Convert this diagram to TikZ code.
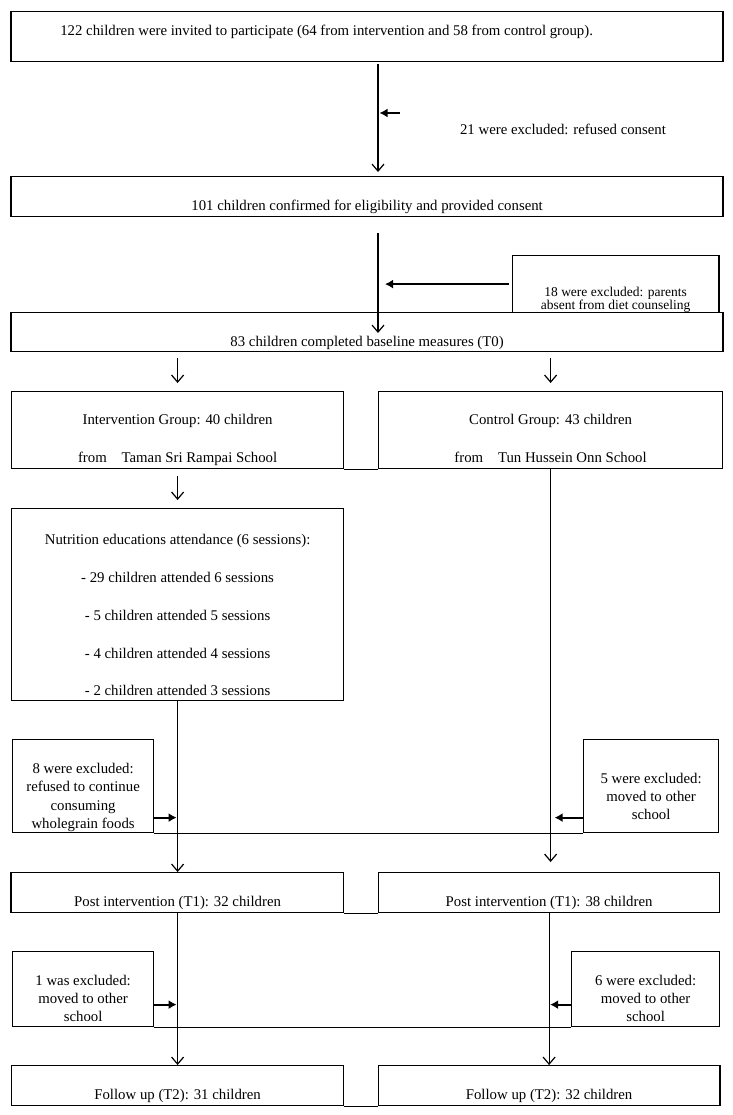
\documentclass[tikz,border=0pt]{standalone}
\usepackage{fontspec}
\setmainfont{Liberation Serif}
\usepackage{tikz}
\usetikzlibrary{arrows.meta}
\newcommand{\stack}[2]{{\renewcommand{\arraystretch}{#1}\begin{tabular}[t]{@{}c@{}}#2\end{tabular}}}

\begin{document}
\begin{tikzpicture}[x=1pt,y=-1pt,font=\fontsize{14.8}{17.5}\selectfont,
		box/.style={draw,line width=1.2pt,inner ysep=0pt,anchor=north west},
		>={Straight Barb[length=7pt,width=12pt]},
		push/.style={line width=2pt,-{Latex[length=8pt,width=9pt]}}]
		\useasboundingbox (0,0) rectangle (732,1115);
		%\draw [help lines,step=50] (0,0) grid (732,1115);
		\coordinate (spine) at (378,0);
		% main column
		\node[box,minimum width=711pt,text height=24pt,text depth=26pt] (invite) at (11,11)
			{122 children were invited to participate (64 from intervention and 58 from control group).\hspace*{81pt}};
		\node (refused) at (563,129) {21 were excluded: refused consent};
		\node[box,minimum width=711pt,text height=34pt,text depth=6pt] (consent) at (11,176)
			{101 children confirmed for eligibility and provided consent};
		\node[box,minimum width=206pt,text height=41pt,text depth=16pt,font=\fontsize{13.5}{16}\selectfont] (absent) at (512,255)
			{\stack{0.75}{18 were excluded: parents\\absent from diet counseling}};
		\node[box,minimum width=711pt,text height=34pt,text depth=5pt] (t0) at (11,312)
			{83 children completed baseline measures (T0)};
		% the two groups
		\node[box,minimum width=332pt,text height=33pt,text depth=44pt] (interv) at (11,391)
			{\stack{2.17}{Intervention Group: 40 children\\from\quad Taman Sri Rampai School}};
		\node[box,minimum width=344pt,text height=33pt,text depth=44pt] (control) at (378,391)
			{\stack{2.17}{Control Group: 43 children\\from\quad Tun Hussein Onn School}};
		\node[box,minimum width=332pt,text height=36pt,text depth=156pt] (educ) at (11,508)
			{\stack{2.16}{Nutrition educations attendance (6 sessions):\\- 29 children attended 6 sessions\\
			- 5 children attended 5 sessions\\- 4 children attended 4 sessions\\- 2 children attended 3 sessions}};
		\node[box,minimum width=141pt,text height=34pt,text depth=59pt] (stopped) at (12,739)
			{\stack{1.05}{8 were excluded:\\refused to continue\\consuming\\wholegrain foods}};
		\node[box,minimum width=135pt,text height=44pt,text depth=49pt] (movedA) at (583,739)
			{\stack{1.03}{5 were excluded:\\moved to other\\school}};
		\node[box,minimum width=332pt,text height=34pt,text depth=6pt] (postI) at (11,872)
			{Post intervention (T1): 32 children};
		\node[box,minimum width=341pt,text height=34pt,text depth=6pt] (postC) at (378,872)
			{Post intervention (T1): 38 children};
		\node[box,minimum width=141pt,text height=34pt,text depth=41pt] (movedB) at (12,951)
			{\stack{1.03}{1 was excluded:\\moved to other\\school}};
		\node[box,minimum width=148pt,text height=34pt,text depth=41pt] (movedC) at (571,951)
			{\stack{1.03}{6 were excluded:\\moved to other\\school}};
		\node[box,minimum width=332pt,text height=34pt,text depth=6pt] (follI) at (11,1065)
			{Follow up (T2): 31 children};
		\node[box,minimum width=341pt,text height=34pt,text depth=6pt] (follC) at (378,1065)
			{Follow up (T2): 32 children};
		% heavy sides of some boxes
		\foreach \n in {invite,consent,t0}
			\draw [line width=2.5pt] (\n.north west) -- (\n.south west) (\n.north east) -- (\n.south east);
		\draw [line width=2.5pt] (absent.north east) -- (absent.south east);
		\draw [line width=2.5pt] (postI.north west) -- (postI.south west);
		\draw [line width=2.5pt] (follC.north east) -- (follC.south east);
		% lines running on between the boxes
		\draw [line width=1.2pt] (interv.south east) -- (control.south west);
		\draw [line width=1.2pt] (stopped.south east) -- (movedA.south west);
		\draw [line width=1.2pt] (postI.south east) -- (postC.south west);
		\draw [line width=1.2pt] (movedB.south east) -- (movedC.south west);
		\draw [line width=1.2pt] (follI.south east) -- (follC.south west);
		% flow
		\draw [->,line width=1.2pt,shorten <=2pt,shorten >=4pt] (invite.south -| spine) -- (consent.north -| spine);
		\coordinate (r) at (400,113);
		\draw [push,shorten >=1.5pt] (r) -- (r -| spine);
		\draw [->,line width=1.2pt,shorten <=16pt,shorten >=-21pt] (consent.south -| spine) -- (t0.north -| spine);
		\draw [push,shorten <=3pt,shorten >=7pt] (absent.west) -- (absent.west -| spine);
		\draw [->,line width=1.2pt,shorten <=6pt,shorten >=8pt] (t0.south -| interv.north) -- (interv.north);
		\draw [->,line width=1.2pt,shorten <=6pt,shorten >=8pt] (t0.south -| control.north) -- (control.north);
		\draw [->,line width=1.2pt,shorten <=7pt,shorten >=8pt] (interv) -- (educ);
		\draw [->,line width=1.2pt] (educ) -- (postI);
		\draw [->,line width=1.2pt,shorten >=10pt] (control.south) -- (control.south |- postC.north);
		\coordinate (s) at ([yshift=-31.5pt]stopped.east);
		\draw [push,shorten >=1pt] (s) -- (s -| educ.south);
		\coordinate (m) at ([yshift=-31.5pt]movedA.west);
		\draw [push,shorten >=4pt] (m) -- (m -| control.south);
		\draw [->,line width=1.2pt] (postI) -- (follI);
		\draw [->,line width=1.2pt] (postC) -- (follC);
		\coordinate (b) at ([yshift=-15.5pt]movedB.east);
		\draw [push,shorten >=1pt] (b) -- (b -| postI.south);
		\coordinate (c) at ([yshift=-15.5pt]movedC.west);
		\draw [push,shorten >=1pt] (c) -- (c -| postC.south);
\end{tikzpicture}
\end{document}
